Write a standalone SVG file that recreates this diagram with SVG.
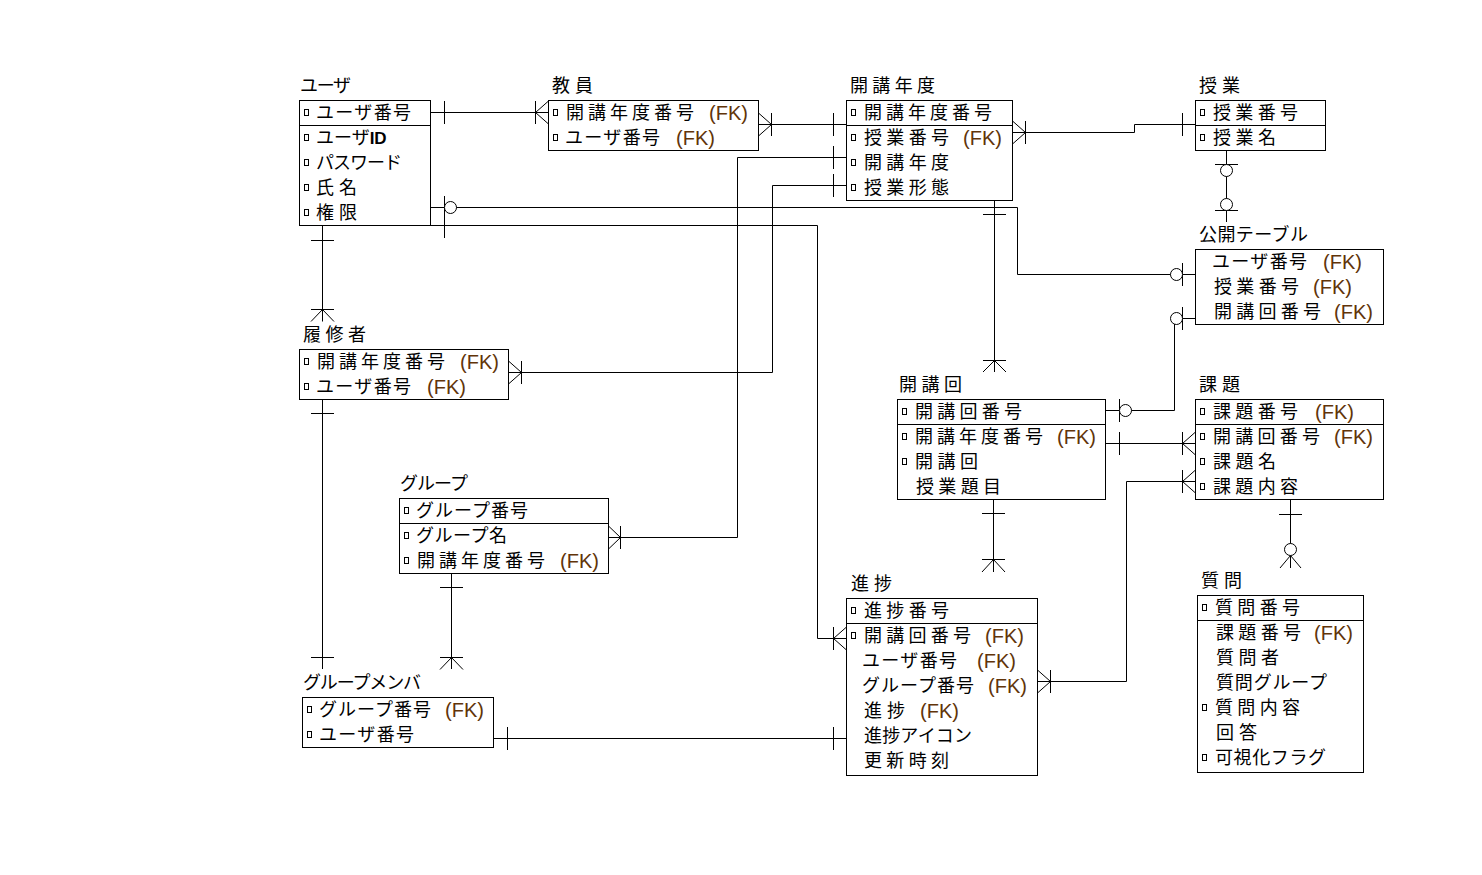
<svg xmlns="http://www.w3.org/2000/svg" width="1482" height="875" viewBox="0 0 1482 875">
<style>
.bg{fill:#fff}
.box{fill:#fff;stroke:#000;stroke-width:1}
.sep{stroke:#000;stroke-width:1}
.key{fill:#fff;stroke:#000;stroke-width:1}
.t{font-family:"Noto Sans CJK JP","Noto Sans CJK SC",sans-serif;font-size:18px;fill:#000}
.fk{font-family:"Liberation Sans",Arial,sans-serif;font-size:20px;fill:#613408}
.id{font-family:"Liberation Sans",Arial,sans-serif;font-size:17px;font-weight:bold}
#connectors path,#connectors line{stroke:#000;stroke-width:1;fill:none}
#connectors circle{fill:#fff;stroke:#000;stroke-width:1}
</style>
<rect class="bg" x="0" y="0" width="1482" height="875"/>

<!-- relationship lines, cardinality ticks, crow's feet and optional circles -->
<g id="connectors">
  <!-- ユーザ - 教員 -->
  <path d="M430.5,112.5H548.5M444.5,101V124M535.5,101V124M535.5,112.5L548.5,101M535.5,112.5L548.5,124"/>
  <!-- 教員 - 開講年度 -->
  <path d="M758.5,124.5H846.5M758.5,113L771.5,124.5L758.5,136M771.5,113V136M833.5,113V136"/>
  <!-- 開講年度 - 授業 -->
  <path d="M1012.5,132.5H1134.5V124.5H1195.5M1012.5,121L1025.5,132.5L1012.5,144M1025.5,121V144M1182.5,113V136"/>
  <!-- 授業 - 公開テーブル -->
  <path d="M1226.5,150.5V222M1215,164.5H1238M1215,210.5H1238"/>
  <circle cx="1226.5" cy="170.5" r="6"/>
  <circle cx="1226.5" cy="204.5" r="6"/>
  <!-- ユーザ - 公開テーブル -->
  <path d="M430.5,207.5H1017.5V274.5H1195.5M444.5,196V219M1182.5,263V286"/>
  <circle cx="450.5" cy="207.5" r="6"/>
  <circle cx="1176.5" cy="274.5" r="6"/>
  <!-- 開講回 - 公開テーブル -->
  <path d="M1105.5,410.5H1174.5V318.5H1195.5M1119.5,399V422M1182.5,307V330"/>
  <circle cx="1125.5" cy="410.5" r="6"/>
  <circle cx="1176.5" cy="318.5" r="6"/>
  <!-- 開講回 - 課題 -->
  <path d="M1105.5,443.5H1195.5M1119.5,432V455M1182.5,432V455M1182.5,443.5L1195.5,432M1182.5,443.5L1195.5,455"/>
  <!-- 進捗 - 課題 -->
  <path d="M1037.5,681.5H1126.5V481.5H1195.5M1037.5,670L1050.5,681.5L1037.5,693M1050.5,670V693M1182.5,470V493M1182.5,481.5L1195.5,470M1182.5,481.5L1195.5,493"/>
  <!-- 開講回 - 進捗 -->
  <path d="M993.5,499.5V572M982,513.5H1005M982,559.5H1005M993.5,559.5L982,572M993.5,559.5L1005,572"/>
  <!-- 課題 - 質問 -->
  <path d="M1290.5,499.5V568M1279,514.5H1302M1290.5,555.5L1280,568M1290.5,555.5L1301,568"/>
  <circle cx="1290.5" cy="549.5" r="6"/>
  <!-- ユーザ - 履修者 -->
  <path d="M322.5,225.5V321.5M311,240.5H334M311,309.5H334M322.5,309.5L311,321.5M322.5,309.5L334,321.5"/>
  <!-- 履修者 - グループメンバ -->
  <path d="M322.5,399.5V669M311,413.5H334M311,657.5H334"/>
  <!-- グループ - グループメンバ -->
  <path d="M451.5,573.5V669M440,587.5H463M440,657.5H463M451.5,657.5L440,669.5M451.5,657.5L463,669.5"/>
  <!-- グループメンバ - 進捗 -->
  <path d="M493.5,738.5H846.5M507.5,727V750M833.5,727V750"/>
  <!-- グループ - 開講年度 -->
  <path d="M608.5,537.5H737.5V157.5H846.5M608.5,526L620.5,537.5L608.5,549M620.5,526V549M833.5,146V169"/>
  <!-- 履修者 - 開講年度 -->
  <path d="M508.5,372.5H772.5V185.5H846.5M508.5,361L521.5,372.5L508.5,384M521.5,361V384M833.5,174V197"/>
  <!-- ユーザ - 進捗 -->
  <path d="M430.5,225.5H817.5V638.5H846.5M444.5,215V238M833.5,627V650M833.5,638.5L846.5,627M833.5,638.5L846.5,650"/>
  <!-- 開講年度 - 開講回 -->
  <path d="M994.5,200.5V372M983,214.5H1006M983,360.5H1006M994.5,360.5L983,372M994.5,360.5L1006,372"/>
</g>

<g id="user">
  <text class="t" x="300" y="92" textLength="51">ユーザ</text>
  <rect class="box" x="299.5" y="100.5" width="131" height="125"/>
  <line class="sep" x1="299.5" y1="125.5" x2="430.5" y2="125.5"/>
  <rect class="key" x="304.5" y="109.5" width="4" height="6"/>
  <rect class="key" x="304.5" y="134.5" width="4" height="6"/>
  <rect class="key" x="304.5" y="159.5" width="4" height="6"/>
  <rect class="key" x="304.5" y="184.5" width="4" height="6"/>
  <rect class="key" x="304.5" y="209.5" width="4" height="6"/>
  <text class="t" x="316" y="118.5" textLength="95">ユーザ番号</text>
  <text class="t" x="316" y="143.5">ユーザ<tspan class="id">ID</tspan></text>
  <text class="t" x="316" y="168.5" textLength="86">パスワード</text>
  <text class="t" x="316" y="193.5" textLength="41">氏名</text>
  <text class="t" x="316" y="218.5" textLength="41">権限</text>
</g>

<g id="teacher">
  <text class="t" x="552" y="92" textLength="41">教員</text>
  <rect class="box" x="548.5" y="100.5" width="210" height="50"/>
  <rect class="key" x="553.5" y="109.5" width="4" height="6"/>
  <rect class="key" x="553.5" y="134.5" width="4" height="6"/>
  <text class="t" x="566" y="118.5" textLength="128">開講年度番号</text>
  <text class="fk" x="709" y="120">(FK)</text>
  <text class="t" x="565" y="143.5" textLength="95">ユーザ番号</text>
  <text class="fk" x="676" y="145">(FK)</text>
</g>

<g id="course-year">
  <text class="t" x="850" y="92" textLength="85">開講年度</text>
  <rect class="box" x="846.5" y="100.5" width="166" height="100"/>
  <line class="sep" x1="846.5" y1="125.5" x2="1012.5" y2="125.5"/>
  <rect class="key" x="851.5" y="109.5" width="4" height="6"/>
  <rect class="key" x="851.5" y="134.5" width="4" height="6"/>
  <rect class="key" x="851.5" y="159.5" width="4" height="6"/>
  <rect class="key" x="851.5" y="184.5" width="4" height="6"/>
  <text class="t" x="864" y="118.5" textLength="128">開講年度番号</text>
  <text class="t" x="864" y="143.5" textLength="85">授業番号</text>
  <text class="fk" x="963" y="145">(FK)</text>
  <text class="t" x="864" y="168.5" textLength="85">開講年度</text>
  <text class="t" x="864" y="193.5" textLength="85">授業形態</text>
</g>

<g id="lesson">
  <text class="t" x="1199" y="92" textLength="41">授業</text>
  <rect class="box" x="1195.5" y="100.5" width="130" height="50"/>
  <line class="sep" x1="1195.5" y1="125.5" x2="1325.5" y2="125.5"/>
  <rect class="key" x="1200.5" y="109.5" width="4" height="6"/>
  <rect class="key" x="1200.5" y="134.5" width="4" height="6"/>
  <text class="t" x="1213" y="118.5" textLength="85">授業番号</text>
  <text class="t" x="1213" y="143.5" textLength="63">授業名</text>
</g>

<g id="public-table">
  <text class="t" x="1199" y="241" textLength="109">公開テーブル</text>
  <rect class="box" x="1195.5" y="249.5" width="188" height="75"/>
  <text class="t" x="1212" y="267.5" textLength="95">ユーザ番号</text>
  <text class="fk" x="1323" y="269">(FK)</text>
  <text class="t" x="1214" y="292.5" textLength="85">授業番号</text>
  <text class="fk" x="1313" y="294">(FK)</text>
  <text class="t" x="1214" y="317.5" textLength="107">開講回番号</text>
  <text class="fk" x="1334" y="319">(FK)</text>
</g>

<g id="student">
  <text class="t" x="303" y="341" textLength="63">履修者</text>
  <rect class="box" x="299.5" y="349.5" width="209" height="50"/>
  <rect class="key" x="304.5" y="358.5" width="4" height="6"/>
  <rect class="key" x="304.5" y="383.5" width="4" height="6"/>
  <text class="t" x="317" y="367.5" textLength="128">開講年度番号</text>
  <text class="fk" x="460" y="369">(FK)</text>
  <text class="t" x="316" y="392.5" textLength="95">ユーザ番号</text>
  <text class="fk" x="427" y="394">(FK)</text>
</g>

<g id="session">
  <text class="t" x="899" y="391" textLength="63">開講回</text>
  <rect class="box" x="897.5" y="399.5" width="208" height="100"/>
  <line class="sep" x1="897.5" y1="424.5" x2="1105.5" y2="424.5"/>
  <rect class="key" x="902.5" y="408.5" width="4" height="6"/>
  <rect class="key" x="902.5" y="433.5" width="4" height="6"/>
  <rect class="key" x="902.5" y="458.5" width="4" height="6"/>
  <text class="t" x="915" y="417.5" textLength="107">開講回番号</text>
  <text class="t" x="915" y="442.5" textLength="128">開講年度番号</text>
  <text class="fk" x="1057" y="444">(FK)</text>
  <text class="t" x="915" y="467.5" textLength="63">開講回</text>
  <text class="t" x="916" y="492.5" textLength="85">授業題目</text>
</g>

<g id="assignment">
  <text class="t" x="1199" y="391" textLength="41">課題</text>
  <rect class="box" x="1195.5" y="399.5" width="188" height="100"/>
  <line class="sep" x1="1195.5" y1="424.5" x2="1383.5" y2="424.5"/>
  <rect class="key" x="1200.5" y="408.5" width="4" height="6"/>
  <rect class="key" x="1200.5" y="433.5" width="4" height="6"/>
  <rect class="key" x="1200.5" y="458.5" width="4" height="6"/>
  <rect class="key" x="1200.5" y="483.5" width="4" height="6"/>
  <text class="t" x="1213" y="417.5" textLength="85">課題番号</text>
  <text class="fk" x="1315" y="419">(FK)</text>
  <text class="t" x="1213" y="442.5" textLength="107">開講回番号</text>
  <text class="fk" x="1334" y="444">(FK)</text>
  <text class="t" x="1213" y="467.5" textLength="63">課題名</text>
  <text class="t" x="1213" y="492.5" textLength="85">課題内容</text>
</g>

<g id="group">
  <text class="t" x="400" y="490" textLength="68">グループ</text>
  <rect class="box" x="399.5" y="498.5" width="209" height="75"/>
  <line class="sep" x1="399.5" y1="523.5" x2="608.5" y2="523.5"/>
  <rect class="key" x="404.5" y="507.5" width="4" height="6"/>
  <rect class="key" x="404.5" y="532.5" width="4" height="6"/>
  <rect class="key" x="404.5" y="557.5" width="4" height="6"/>
  <text class="t" x="416" y="516.5" textLength="112">グループ番号</text>
  <text class="t" x="416" y="541.5" textLength="91">グループ名</text>
  <text class="t" x="417" y="566.5" textLength="128">開講年度番号</text>
  <text class="fk" x="560" y="568">(FK)</text>
</g>

<g id="group-member">
  <text class="t" x="303" y="689" textLength="118">グループメンバ</text>
  <rect class="box" x="302.5" y="697.5" width="191" height="50"/>
  <rect class="key" x="307.5" y="706.5" width="4" height="6"/>
  <rect class="key" x="307.5" y="731.5" width="4" height="6"/>
  <text class="t" x="319" y="715.5" textLength="112">グループ番号</text>
  <text class="fk" x="445" y="717">(FK)</text>
  <text class="t" x="319" y="740.5" textLength="95">ユーザ番号</text>
</g>

<g id="progress">
  <text class="t" x="851" y="590" textLength="41">進捗</text>
  <rect class="box" x="846.5" y="598.5" width="191" height="177"/>
  <line class="sep" x1="846.5" y1="623.5" x2="1037.5" y2="623.5"/>
  <rect class="key" x="851.5" y="607.5" width="4" height="6"/>
  <rect class="key" x="851.5" y="632.5" width="4" height="6"/>
  <text class="t" x="864" y="616.5" textLength="85">進捗番号</text>
  <text class="t" x="864" y="641.5" textLength="107">開講回番号</text>
  <text class="fk" x="985" y="643">(FK)</text>
  <text class="t" x="862" y="666.5" textLength="95">ユーザ番号</text>
  <text class="fk" x="977" y="668">(FK)</text>
  <text class="t" x="862" y="691.5" textLength="112">グループ番号</text>
  <text class="fk" x="988" y="693">(FK)</text>
  <text class="t" x="864" y="716.5" textLength="41">進捗</text>
  <text class="fk" x="920" y="718">(FK)</text>
  <text class="t" x="864" y="741.5" textLength="108">進捗アイコン</text>
  <text class="t" x="864" y="766.5" textLength="85">更新時刻</text>
</g>

<g id="question">
  <text class="t" x="1201" y="587" textLength="41">質問</text>
  <rect class="box" x="1197.5" y="595.5" width="166" height="177"/>
  <line class="sep" x1="1197.5" y1="620.5" x2="1363.5" y2="620.5"/>
  <rect class="key" x="1202.5" y="604.5" width="4" height="6"/>
  <rect class="key" x="1202.5" y="704.5" width="4" height="6"/>
  <rect class="key" x="1202.5" y="754.5" width="4" height="6"/>
  <text class="t" x="1215" y="613.5" textLength="85">質問番号</text>
  <text class="t" x="1216" y="638.5" textLength="85">課題番号</text>
  <text class="fk" x="1314" y="640">(FK)</text>
  <text class="t" x="1216" y="663.5" textLength="63">質問者</text>
  <text class="t" x="1216" y="688.5" textLength="111">質問グループ</text>
  <text class="t" x="1215" y="713.5" textLength="85">質問内容</text>
  <text class="t" x="1216" y="738.5" textLength="41">回答</text>
  <text class="t" x="1215" y="763.5" textLength="111">可視化フラグ</text>
</g>
</svg>
